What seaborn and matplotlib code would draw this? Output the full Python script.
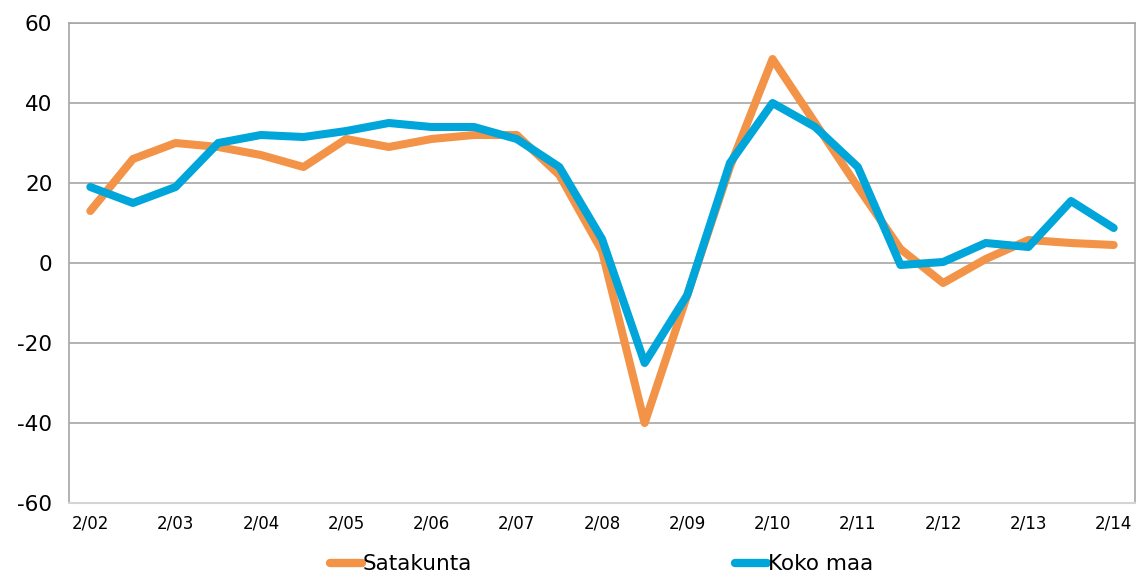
import matplotlib
matplotlib.use("Agg")
import matplotlib.pyplot as plt
import seaborn as sns
import pandas as pd
import numpy as np

tick_labels = ["2/02", "2/03", "2/04", "2/05", "2/06", "2/07", "2/08",
               "2/09", "2/10", "2/11", "2/12", "2/13", "2/14"]

satakunta = [13, 26, 30, 29, 27, 24, 31, 29, 31, 32, 32, 22, 3, -40, -8,
             24, 51, 35, 19, 3.5, -5, 1, 5.75, 5, 4.5]
koko_maa = [19, 15, 19, 30, 32, 31.5, 33, 35, 34, 34, 31, 24, 6, -25, -8,
            25, 40, 34, 24, -0.5, 0.25, 5, 4, 15.5, 8.75]

series_names = ["Satakunta", "Koko maa"]
colors = ["#F39347", "#00A6DA"]

n = len(satakunta)
df = pd.DataFrame({
    "x": list(range(n)) * 2,
    "value": satakunta + koko_maa,
    "series": [series_names[0]] * n + [series_names[1]] * n,
})

sns.set_theme(style="white")
plt.rcParams["font.family"] = ["DejaVu Sans"]
plt.rcParams["text.color"] = "black"

fig = plt.figure(figsize=(11.46, 5.77), dpi=100)
ax = fig.add_axes([69 / 1146, 1 - 503 / 577, (1135 - 69) / 1146, (503 - 23) / 577])

sns.lineplot(data=df, x="x", y="value", hue="series", palette=colors,
             linewidth=5.8, ax=ax, legend=True, solid_capstyle="round",
             solid_joinstyle="round")

ax.set_xlim(-0.5, n - 0.5)
ax.set_ylim(-60, 60)
ax.set_yticks(range(-60, 61, 20))
ax.set_yticklabels([str(v) for v in range(-60, 61, 20)], fontsize=15.5)
ax.set_xticks(range(0, n, 2))
ax.set_xticklabels(tick_labels, fontsize=12)
ax.tick_params(axis="both", length=0, colors="black")
ax.tick_params(axis="x", pad=8)
ax.tick_params(axis="y", pad=12)
ax.set_xlabel("")
ax.set_ylabel("")

ax.yaxis.grid(True, color="#a6a6a6", linewidth=1.2)
ax.set_axisbelow(True)
for side in ["left", "right", "top"]:
    ax.spines[side].set_color("#a6a6a6")
    ax.spines[side].set_linewidth(1.2)
ax.spines["bottom"].set_color("#d4d4d4")
ax.spines["bottom"].set_linewidth(1.5)

ax.get_legend().remove()
handles, labels = ax.get_legend_handles_labels()
leg = fig.legend(handles, labels, loc="center", bbox_to_anchor=(0.525, 0.022),
                 bbox_transform=fig.transFigure, ncol=2, frameon=False,
                 fontsize=15.5, handlelength=1.5, handletextpad=0.05,
                 columnspacing=12.2, borderpad=0)
for line in leg.get_lines():
    line.set_linewidth(6)
    line.set_solid_capstyle("round")
for t in leg.get_texts():
    t.set_color("black")

fig.savefig("out.png", dpi=100)
